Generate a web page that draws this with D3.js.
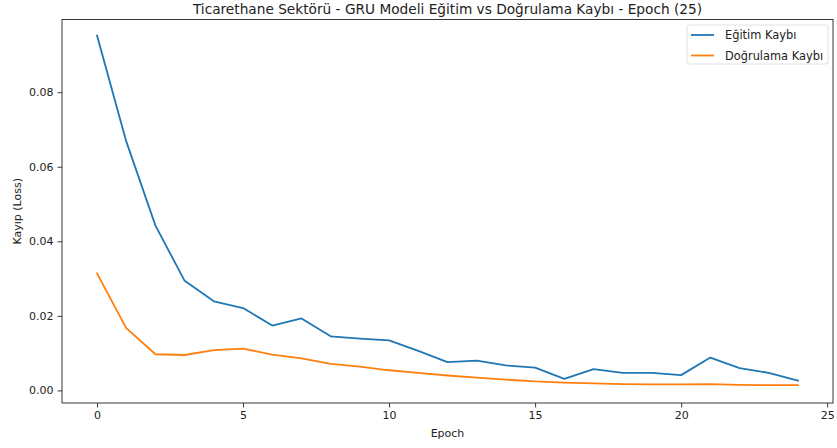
<!DOCTYPE html>
<html><head><meta charset="utf-8">
<script src="https://cdn.jsdelivr.net/npm/d3@7"></script>
<style>body{margin:0;background:#fff}svg{display:block;font-family:"DejaVu Sans",sans-serif}</style>
</head><body><svg id="c" width="837" height="448"></svg>
<script>
const epochs = d3.range(25);
const trainLoss = [0.0952,0.0668,0.0442,0.0294,0.0239,0.0221,0.0174,0.0193,0.0145,0.0139,0.0134,0.0106,0.0076,0.0080,0.0067,0.0061,0.0031,0.0057,0.0047,0.0047,0.0041,0.0088,0.0060,0.0047,0.0026];
const valLoss = [0.0314,0.0167,0.0097,0.0095,0.0108,0.0112,0.0096,0.0086,0.0071,0.0064,0.0054,0.0047,0.0040,0.0034,0.0029,0.0024,0.0021,0.0019,0.0017,0.0016,0.0016,0.0017,0.0015,0.0014,0.0014];
const xTicks = [0,5,10,15,20,25];
const yTicks = [0,0.02,0.04,0.06,0.08];
const seriesNames = ["Eğitim Kaybı","Doğrulama Kaybı"];
const colors = ["#1f77b4","#ff7f0e"];
const title = "Ticarethane Sektörü - GRU Modeli Eğitim vs Doğrulama Kaybı - Epoch (25)";

const svg = d3.select("#c");
const L=62, R=833, T=19.5, B=403;
const x = d3.scaleLinear().domain([-1.2,25.2]).range([L,R]);
const y = d3.scaleLinear().domain([-0.00338,0.0995]).range([B,T]);

const gx = svg.append("g").attr("transform",`translate(0,${B})`)
  .call(d3.axisBottom(x).tickValues(xTicks).tickSize(4.5).tickPadding(4).tickFormat(d3.format("d")));
const gy = svg.append("g").attr("transform",`translate(${L},0)`)
  .call(d3.axisLeft(y).tickValues(yTicks).tickSize(4.5).tickPadding(4).tickFormat(d3.format(".2f")));
[gx,gy].forEach(g=>{g.select(".domain").remove();
  g.selectAll("text").attr("font-size",11).attr("fill","#222").attr("font-family","DejaVu Sans");
  g.selectAll("line").attr("stroke","#222").attr("stroke-width",0.9);});

svg.append("rect").attr("x",L).attr("y",T).attr("width",R-L).attr("height",B-T)
  .attr("fill","none").attr("stroke","#222").attr("stroke-width",0.9);

const line = d3.line().x((d,i)=>x(epochs[i])).y(d=>y(d));
[trainLoss,valLoss].forEach((s,k)=>{
  svg.append("path").datum(s).attr("d",line).attr("fill","none")
    .attr("stroke",colors[k]).attr("stroke-width",1.8).attr("stroke-linejoin","round").attr("stroke-linecap","square");
});

svg.append("text").attr("x",(L+R)/2).attr("y",14).attr("text-anchor","middle")
  .attr("font-size",13.7).attr("fill","#222").text(title);
svg.append("text").attr("x",(L+R)/2).attr("y",437).attr("text-anchor","middle")
  .attr("font-size",11).attr("fill","#222").text("Epoch");
svg.append("text").attr("transform",`translate(21,${(T+B)/2}) rotate(-90)`).attr("text-anchor","middle")
  .attr("font-size",11).attr("fill","#222").text("Kayıp (Loss)");

const lg = svg.append("g");
lg.append("rect").attr("x",687).attr("y",25).attr("width",141).attr("height",39).attr("rx",2.5)
  .attr("fill","#fff").attr("fill-opacity",0.8).attr("stroke","#ddd").attr("stroke-width",0.9);
seriesNames.forEach((n,k)=>{
  const yy = 35 + k*20.5;
  lg.append("line").attr("x1",691).attr("x2",714).attr("y1",yy).attr("y2",yy)
    .attr("stroke",colors[k]).attr("stroke-width",1.8);
  lg.append("text").attr("x",725).attr("y",yy+4).attr("font-size",11.4).attr("fill","#222").text(n);
});
</script></body></html>
